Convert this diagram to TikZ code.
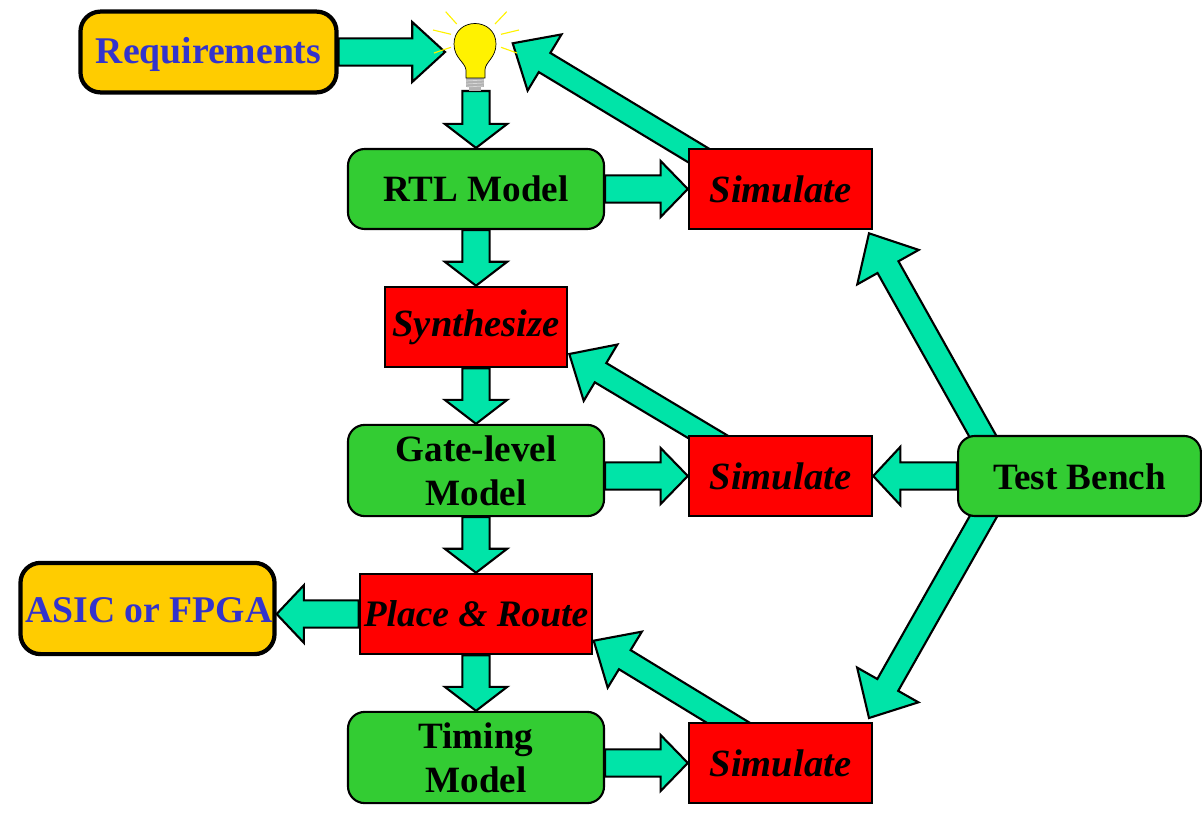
\documentclass[tikz,border=0pt]{standalone}
\usepackage{fontspec}
\setmainfont{Liberation Serif}
\usetikzlibrary{calc,backgrounds}
\definecolor{flow_green}{HTML}{00E4A8}
\definecolor{model_green}{HTML}{33CC33}
\definecolor{goal_yellow}{HTML}{FFCC00}
\definecolor{goal_blue}{HTML}{3333CC}
\tikzset{
    model_box/.style={rectangle, rounded corners=0.42cm, draw=black, line width=1.5pt, fill=model_green,
        minimum width=6.4cm, align=center, inner sep=0pt, font=\fontsize{26.4}{31.5}\selectfont\bfseries},
    task_box/.style={rectangle, draw=black, line width=1.8pt, fill=red, minimum height=2cm, inner sep=0pt,
        font=\fontsize{27.4}{31}\selectfont\bfseries\itshape},
    goal_box/.style={rectangle, rounded corners=0.5cm, draw=black, line width=3pt, fill=goal_yellow,
        text=goal_blue, inner sep=0pt, font=\fontsize{26.8}{31}\selectfont\bfseries},
    flow_arrow/.style={draw=black, line width=1.5pt, fill=flow_green, line join=miter}
}
% lowers a label by its baseline offset from the middle of the box
\newcommand{\lowered}[2]{\raisebox{-#1}[0pt][0pt]{#2}}
% [shaft half width], from, tip, head length, head half width
\newcommand{\blockarrow}[5][0.34cm]{
    \path ($(#3)!#4!(#2)$) coordinate (head_base);
    \draw[flow_arrow] ($(#2)!#1!90:(#3)$) -- ($(head_base)!#1!90:(#3)$)
        -- ($(head_base)!#5!90:(#3)$) -- (#3) -- ($(head_base)!#5!-90:(#3)$)
        -- ($(head_base)!#1!-90:(#3)$) -- ($(#2)!#1!-90:(#3)$) -- cycle;
}
\begin{document}
\begin{tikzpicture}[x=0.025cm, y=-0.025cm]

    \useasboundingbox (0, 0) rectangle (1202, 826);

    \node (requirements) [goal_box, minimum width=6.4cm, minimum height=2.02cm, shift={(208.5, 52)}]
    {\lowered{8.5pt}{Requirements}};

    \node (asic_fpga) [goal_box, minimum width=6.35cm, minimum height=2.28cm, shift={(147.5, 608.5)}]
    {\lowered{9.6pt}{\hspace{2pt}ASIC or FPGA}};

    \node (rtl_model) [model_box, minimum height=2cm, shift={(476, 189)}]
    {\lowered{9.2pt}{RTL Model}};

    \node (gate_model) [model_box, minimum height=2.28cm, shift={(476, 470.5)}]
    {Gate-level\\Model};

    \node (timing_model) [model_box, minimum height=2.28cm, shift={(476, 757.5)}]
    {Timing\\Model};

    \node (test_bench) [model_box, minimum width=6.07cm, minimum height=2cm, shift={(1079.5, 476)}]
    {\lowered{9.6pt}{Test Bench}};

    \node (synthesize) [task_box, minimum width=4.55cm, shift={(476, 327)}]
    {Synthesize};

    \node (place_route) [task_box, minimum width=5.8cm, shift={(476, 614)}, font=\fontsize{26.6}{31}\selectfont\bfseries\itshape]
    {Place \& Route};

    \node (simulate_rtl) [task_box, minimum width=4.57cm, shift={(780.5, 189)}]
    {Simulate};

    \node (simulate_gate) [task_box, minimum width=4.57cm, shift={(780.5, 476)}]
    {Simulate};

    \node (simulate_timing) [task_box, minimum width=4.57cm, shift={(780.5, 763)}]
    {Simulate};

    % the bulb
    \coordinate (bulb_in) at (445, 52);
    \coordinate (bulb_top) at (476, 91);
    \coordinate (bulb_side) at (512.7, 43.3);

    \draw[yellow, line width=0.8pt]
        (445.7, 11.7) -- (456.7, 24)
        (506.7, 11.7) -- (495, 24)
        (433, 30) -- (451, 34.3)
        (519, 30) -- (501, 34.3)
        (434, 53) -- (451, 47.3)
        (501, 47.3) -- (517, 53);
    \fill[gray!60] (466, 78) rectangle (484, 87);
    \fill[gray!60] (469, 87) rectangle (481, 91);
    \draw[gray!30, line width=0.5pt]
        (466, 81) -- (484, 80)
        (466, 84) -- (484, 83)
        (467, 87) -- (483, 86);
    \draw[fill=yellow, line width=0.5pt]
        (466, 78) -- (466, 70)
        .. controls (465, 62) and (454, 58) .. (454, 44)
        .. controls (454, 31) and (464, 23.5) .. (475, 23.5)
        .. controls (486, 23.5) and (496, 31) .. (496, 44)
        .. controls (496, 58) and (485, 62) .. (485, 70)
        -- (485, 78) -- cycle;

    \begin{scope}[on background layer]

        \blockarrow{requirements.east |- bulb_in}{bulb_in}{0.82cm}{0.75cm}
        \blockarrow{bulb_top}{rtl_model.north}{0.6cm}{0.78cm}
        \blockarrow{rtl_model.south}{synthesize.north}{0.6cm}{0.78cm}
        \blockarrow{synthesize.south}{gate_model.north}{0.6cm}{0.78cm}
        \blockarrow{gate_model.south}{place_route.north}{0.6cm}{0.78cm}
        \blockarrow{place_route.south}{timing_model.north}{0.6cm}{0.78cm}
        \blockarrow{place_route.west}{asic_fpga.east |- place_route.west}{0.68cm}{0.72cm}

        \blockarrow{rtl_model.east}{simulate_rtl.west}{0.68cm}{0.7cm}
        \blockarrow{gate_model.east |- simulate_gate.west}{simulate_gate.west}{0.68cm}{0.7cm}
        \blockarrow{timing_model.east |- simulate_timing.west}{simulate_timing.west}{0.68cm}{0.7cm}
        \blockarrow{test_bench.west}{simulate_gate.east}{0.68cm}{0.73cm}

        \coordinate (synthesize_tip) at (569.3, 354);
        \coordinate (place_route_tip) at (593.7, 640.7);
        \coordinate (simulate_rtl_tip) at (869, 233.3);
        \coordinate (simulate_timing_tip) at (869, 718);

        \blockarrow[0.28cm]{$(simulate_rtl.north west)+(48.5, 30.5)$}{bulb_side}{0.93cm}{0.82cm}
        \blockarrow[0.28cm]{$(simulate_gate.north west)+(50, 20)$}{synthesize_tip}{0.91cm}{0.82cm}
        \blockarrow[0.28cm]{$(simulate_timing.north west)+(71.5, 20)$}{place_route_tip}{0.91cm}{0.82cm}
        \blockarrow[0.3cm]{$(test_bench.north west)+(36.3, 20)$}{simulate_rtl_tip}{0.97cm}{0.88cm}
        \blockarrow[0.3cm]{$(test_bench.south west)+(37.3, -20)$}{simulate_timing_tip}{0.95cm}{0.88cm}

    \end{scope}

\end{tikzpicture}
\end{document}
